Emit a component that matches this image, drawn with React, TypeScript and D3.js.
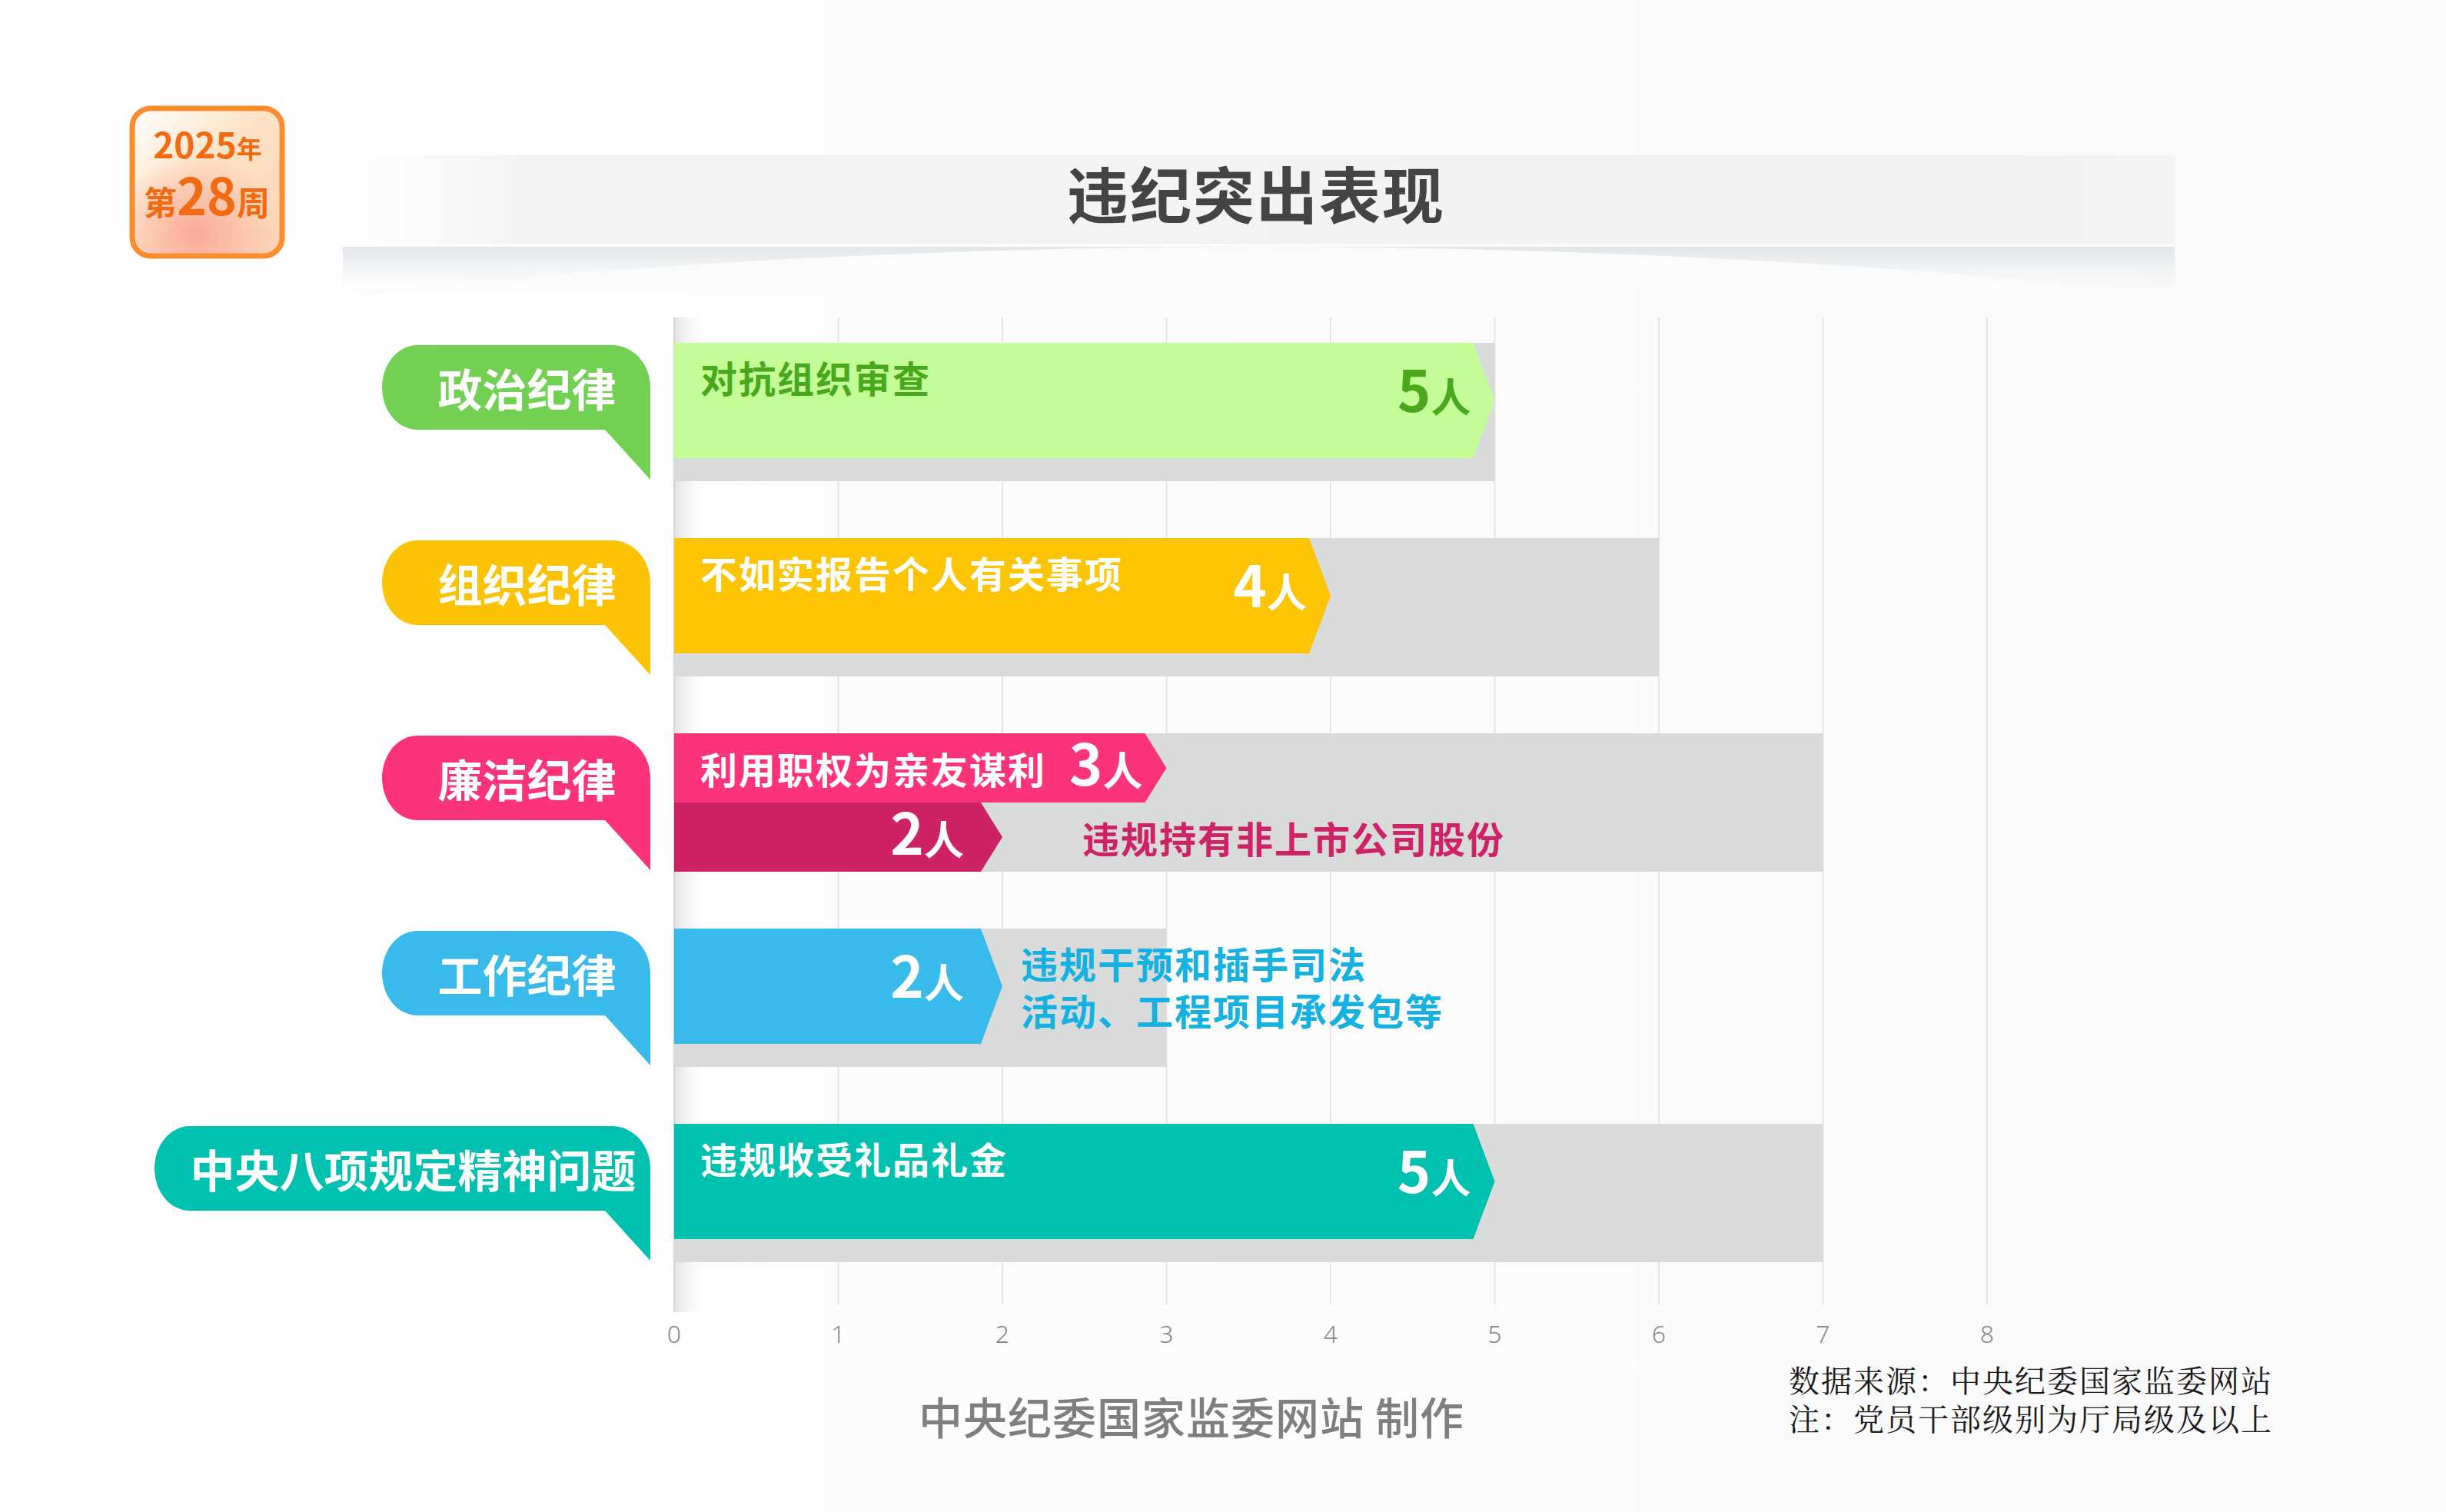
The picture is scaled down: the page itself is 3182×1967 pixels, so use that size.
import React from 'react';
import * as d3 from 'd3';

const W = 3182;
const H = 1967;

// rows (discipline categories)
const categories = ['政治纪律', '组织纪律', '廉洁纪律', '工作纪律', '中央八项规定精神问题'];
const categoryColors = ['#72d052', '#fbc303', '#fb337a', '#38bbea', '#00c1b0'];
// grey track behind each row
const trackValues = [5, 6, 7, 3, 7];

// individual bars
const barCategory = ['政治纪律', '组织纪律', '廉洁纪律', '廉洁纪律', '工作纪律', '中央八项规定精神问题'];
const barValues = [5, 4, 3, 2, 2, 5];
const barLabels = [
  '对抗组织审查',
  '不如实报告个人有关事项',
  '利用职权为亲友谋利',
  '违规持有非上市公司股份',
  '违规干预和插手司法\n活动、工程项目承发包等',
  '违规收受礼品礼金',
];
const barColors = ['#c4fd98', '#fcc403', '#fb337a', '#cd2366', '#38bbea', '#00c1b0'];
const labelColors = ['#4aa81d', '#ffffff', '#ffffff', '#cd2366', '#14b1e1', '#ffffff'];
const numberColors = ['#4aa81d', '#ffffff', '#ffffff', '#ffffff', '#ffffff', '#ffffff'];
const labelInside = [true, true, true, false, false, true];
const unit = '人';

const xTicks = [0, 1, 2, 3, 4, 5, 6, 7, 8];

const title = '违纪突出表现';
const badgeYear = '2025';
const badgeWeek = '28';
const credit = '中央纪委国家监委网站 制作';
const notes = ['数据来源：中央纪委国家监委网站', '注：党员干部级别为厅局级及以上'];

const CJK = '"Noto Sans CJK SC", "Noto Sans", sans-serif';

// label offsets: inside labels from bar start, outside labels from arrow tip
const labelOffset = [34, 34, 34, 104, 24, 34];
const ARROW = 28;

const App: React.FC = () => {
  const x = d3.scaleLinear().domain([0, 8]).range([877, 2585]);
  const y = d3.scaleBand<string>().domain(categories).range([446, 1642]).paddingInner(0.2913);
  const bw = y.bandwidth();
  const gridTop = 413;
  const gridBottom = 1697;

  const bars = barValues.map((v, i) => {
    const cat = barCategory[i];
    const sib = barCategory.map((c, j) => (c === cat ? j : -1)).filter((j) => j >= 0);
    const n = sib.length;
    const k = sib.indexOf(i);
    const h = n === 1 ? bw * (150 / 180) : bw / n;
    const top = (y(cat) as number) + k * h;
    const x0 = x(0);
    const xe = x(v);
    const d = `M${x0},${top}H${xe - ARROW}L${xe},${top + h / 2}L${xe - ARROW},${top + h}H${x0}Z`;
    return { i, v, n, h, top, x0, xe, d };
  });

  const bubble = (cat: string, i: number) => {
    const bandTop = y(cat) as number;
    const T = bandTop + 3;
    const R = 846;
    const w = Math.max(349, cat.length * 58 + 65);
    const L = R - w;
    const B = T + 110;
    const tip = bandTop + 178;
    const rx = 46, ry = 55, rx2 = 50, ry2 = 55;
    const d = `M${L + rx},${T}H${R - rx2}A${rx2},${ry2} 0 0 1 ${R},${T + ry2}V${tip}L${R - 59},${B}H${L + rx}A${rx},${ry} 0 0 1 ${L + rx},${T}Z`;
    return (
      <g key={cat}>
        <path d={d} fill={categoryColors[i]} />
        <text
          x={(L + R) / 2 + 14}
          y={T + 55}
          textAnchor="middle"
          dominantBaseline="central"
          fontFamily={CJK}
          fontWeight={700}
          fontSize={58}
          fill="#ffffff"
        >
          {cat}
        </text>
      </g>
    );
  };

  return (
    <>
      <style>{`body{margin:0;overflow:hidden}`}</style>
      <svg width={W} height={H} style={{ display: 'block' }}>
        <defs>
          <linearGradient id="bg" x1="0" x2="1" y1="0" y2="0">
            <stop offset="0" stopColor="#ffffff" />
            <stop offset="1" stopColor="#f9f9f9" />
          </linearGradient>
          <linearGradient id="banner" x1="0" x2="1" y1="0" y2="0">
            <stop offset="0" stopColor="#f6f6f6" stopOpacity={0} />
            <stop offset="0.1" stopColor="#f4f4f4" />
            <stop offset="0.9" stopColor="#f2f2f2" />
            <stop offset="1" stopColor="#f4f4f4" />
          </linearGradient>
          <linearGradient id="swoosh" x1="0" x2="0" y1="0" y2="1">
            <stop offset="0" stopColor="#e0e5e8" />
            <stop offset="1" stopColor="#f7f9fa" stopOpacity={0.3} />
          </linearGradient>
          <linearGradient id="strip" x1="0" x2="1" y1="0" y2="0">
            <stop offset="0" stopColor="#e2e2e2" />
            <stop offset="1" stopColor="#ffffff" stopOpacity={0} />
          </linearGradient>
          <linearGradient id="badgeBase" x1="0" x2="1" y1="0" y2="1">
            <stop offset="0" stopColor="#ffffff" />
            <stop offset="0.45" stopColor="#fde3c6" />
            <stop offset="1" stopColor="#fbd3b6" />
          </linearGradient>
          <radialGradient id="badgeGlow" cx="0.42" cy="0.85" r="0.55">
            <stop offset="0" stopColor="#f9a595" stopOpacity={0.9} />
            <stop offset="1" stopColor="#f9a595" stopOpacity={0} />
          </radialGradient>
        </defs>

        <rect x={0} y={0} width={W} height={H} fill="url(#bg)" />

        {/* badge */}
        <g>
          <rect x={172} y={141} width={195} height={192} rx={24} fill="url(#badgeBase)" />
          <rect x={172} y={141} width={195} height={192} rx={24} fill="url(#badgeGlow)" />
          <rect x={172} y={141} width={195} height={192} rx={24} fill="none" stroke="#fd8c2e" strokeWidth={7} />
          <text x={270} y={206} textAnchor="middle" fontFamily={CJK} fontWeight={700} fill="#f26b12">
            <tspan fontSize={46}>{badgeYear}</tspan>
            <tspan fontSize={33}>年</tspan>
          </text>
          <text x={269} y={280} textAnchor="middle" fontFamily={CJK} fontWeight={700} fill="#f26b12">
            <tspan fontSize={43}>第</tspan>
            <tspan fontSize={66}>{badgeWeek}</tspan>
            <tspan fontSize={43}>周</tspan>
          </text>
        </g>

        {/* title banner */}
        <rect x={446} y={202} width={2383} height={115} fill="url(#banner)" />
        <rect x={446} y={321} width={2383} height={56} fill="url(#swoosh)" />
        <path d="M446,382Q1637,260 2829,382Z" fill="#fbfbfb" />
        <text
          x={1634}
          y={249}
          textAnchor="middle"
          dominantBaseline="central"
          fontFamily={CJK}
          fontWeight={700}
          fontSize={80}
          letterSpacing={2}
          fill="#444444"
        >
          {title}
        </text>

        {/* grid */}
        {xTicks.filter((t) => t > 0).map((t) => (
          <line key={t} x1={x(t)} x2={x(t)} y1={gridTop} y2={gridBottom} stroke="#e5e5e5" strokeWidth={2} />
        ))}
        <rect x={x(0)} y={gridTop} width={42} height={gridBottom + 10 - gridTop} fill="url(#strip)" />
        <line x1={x(0)} x2={x(0)} y1={gridTop} y2={gridBottom + 10} stroke="#d6d6d6" strokeWidth={2} />

        {/* tracks */}
        {categories.map((c, i) => (
          <rect
            key={c}
            x={x(0)}
            y={y(c)}
            width={x(trackValues[i]) - x(0)}
            height={bw}
            fill="#d9dbdb"
          />
        ))}

        {/* bars */}
        {bars.map((b) => (
          <path key={b.i} d={b.d} fill={barColors[b.i]} />
        ))}

        {/* bar labels */}
        {bars.map((b) => {
          const lines = barLabels[b.i].split('\n');
          const inside = labelInside[b.i];
          const lx = inside ? b.x0 + labelOffset[b.i] : b.xe + labelOffset[b.i];
          const cy = inside && b.n === 1 ? b.top + 44 : b.top + b.h / 2;
          const lh = 61;
          return (
            <text
              key={b.i}
              fontFamily={CJK}
              fontWeight={700}
              fontSize={48}
              letterSpacing={2}
              fill={labelColors[b.i]}
              dominantBaseline="central"
            >
              {lines.map((ln, j) => (
                <tspan key={j} x={lx} y={cy + (j - (lines.length - 1) / 2) * lh}>
                  {ln}
                </tspan>
              ))}
            </text>
          );
        })}

        {/* values */}
        {bars.map((b) => (
          <text
            key={b.i}
            x={b.xe - ARROW - (b.v === 2 ? 22 : 3)}
            y={b.top + b.h / 2 + (b.n === 1 ? 15 : 23)}
            textAnchor="end"
            fontFamily={CJK}
            fontWeight={700}
            fill={numberColors[b.i]}
          >
            <tspan fontSize={74}>{b.v}</tspan>
            <tspan fontSize={52}>{unit}</tspan>
          </text>
        ))}

        {/* category bubbles */}
        {categories.map((c, i) => bubble(c, i))}

        {/* x ticks */}
        {xTicks.map((t) => (
          <text
            key={t}
            x={x(t)}
            y={1747}
            textAnchor="middle"
            fontFamily='"Noto Sans", sans-serif'
            fontWeight={300}
            fontSize={32}
            fill="#888888"
          >
            {t}
          </text>
        ))}

        {/* footer */}
        <text
          x={1550}
          y={1866}
          textAnchor="middle"
          fontFamily={CJK}
          fontWeight={500}
          fontSize={57}
          letterSpacing={1}
          fill="#7f7f7f"
        >
          {credit}
        </text>
        {notes.map((n, i) => (
          <text
            key={n}
            x={2327}
            y={1811 + i * 50}
            fontFamily={'"Noto Serif CJK SC", ' + CJK}
            fontWeight={400}
            fontSize={40}
            letterSpacing={2}
            fill="#1a1a1a"
          >
            {n}
          </text>
        ))}
      </svg>
    </>
  );
};

export default App;
